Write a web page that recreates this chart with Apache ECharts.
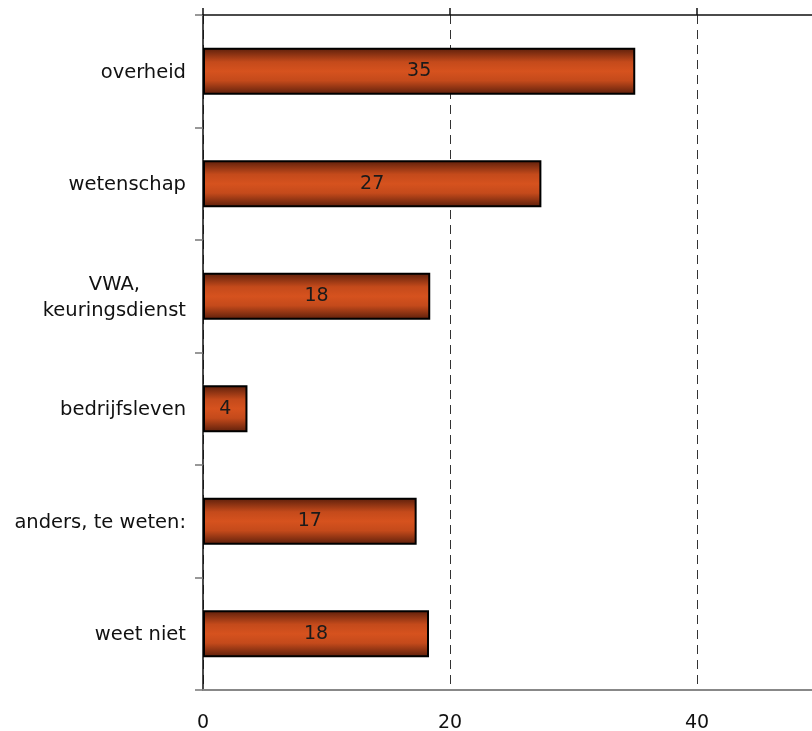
<!DOCTYPE html>
<html>
<head>
<meta charset="utf-8">
<script src="https://cdn.jsdelivr.net/npm/echarts@6/dist/echarts.min.js"></script>
<style>
  html, body { margin: 0; padding: 0; background: #fff; }
  #chart { width: 812px; height: 731px; }
</style>
</head>
<body>
<div id="chart"></div>
<script>
// Answer categories, top to bottom
const categories = ['overheid', 'wetenschap', 'VWA,\nkeuringsdienst', 'bedrijfsleven', 'anders, te weten:', 'weet niet'];
// Percentages per category
const values = [35.0, 27.4, 18.4, 3.6, 17.3, 18.3];
// Value-axis tick labels
const xTicks = [0, 20, 40];

const FONT = '"DejaVu Sans", Verdana, sans-serif';
const FS = 19;
const CAT_FS = 19.5;

const barFill = new echarts.graphic.LinearGradient(0, 0, 0, 1, [
  { offset: 0, color: '#5a1e0b' },
  { offset: 0.3, color: '#c44a1b' },
  { offset: 0.5, color: '#d6521e' },
  { offset: 0.7, color: '#c44a1b' },
  { offset: 1, color: '#5a1e0b' }
]);

const chart = echarts.init(document.getElementById('chart'), null, { renderer: 'canvas' });
chart.setOption({
  animation: false,
  backgroundColor: '#ffffff',
  grid: { left: 203, top: 15, width: 617.5, height: 675, containLabel: false, outerBoundsMode: 'none' },
  xAxis: [
    {
      type: 'value', position: 'bottom', min: 0, max: 50, interval: 20,
      axisLine: { show: true, lineStyle: { color: '#888888', width: 2 } },
      axisTick: { show: false },
      axisLabel: {
        margin: 24, color: '#111', fontSize: FS, fontFamily: FONT,
        formatter: v => (xTicks.indexOf(v) >= 0 ? String(v) : '')
      },
      splitLine: { show: true, lineStyle: { color: '#333', type: [9, 6], width: 1 } }
    },
    {
      type: 'value', position: 'top', min: 0, max: 50, interval: 20,
      axisLine: { show: true, onZero: false, lineStyle: { color: '#111', width: 1.5 } },
      axisTick: { show: true, inside: false, length: 7, lineStyle: { color: '#111', width: 1.5 } },
      axisLabel: { show: false },
      splitLine: { show: false }
    }
  ],
  yAxis: {
    type: 'category', data: categories, inverse: true,
    axisLine: { show: true, lineStyle: { color: '#111', width: 1.5 } },
    axisTick: { show: true, length: 8, alignWithLabel: false, lineStyle: { color: '#777', width: 1.5 } },
    axisLabel: {
      margin: 17, color: '#111', fontSize: CAT_FS, fontFamily: FONT, lineHeight: 26,
      formatter: v => v.split('\n').map(s => '{c|' + s + '}').join('\n'),
      rich: { c: { align: 'center', fontSize: CAT_FS, fontFamily: FONT, color: '#111', lineHeight: 26, padding: [3, 0, 0, 0] } }
    }
  },
  series: [{
    type: 'bar', xAxisIndex: 0, data: values, barWidth: 47,
    itemStyle: { color: barFill, borderColor: '#000', borderWidth: 2 },
    label: {
      show: true, position: 'inside', color: '#1a1a1a', fontSize: FS, fontFamily: FONT,
      formatter: p => String(Math.round(p.value))
    }
  }]
});
</script>
</body>
</html>
